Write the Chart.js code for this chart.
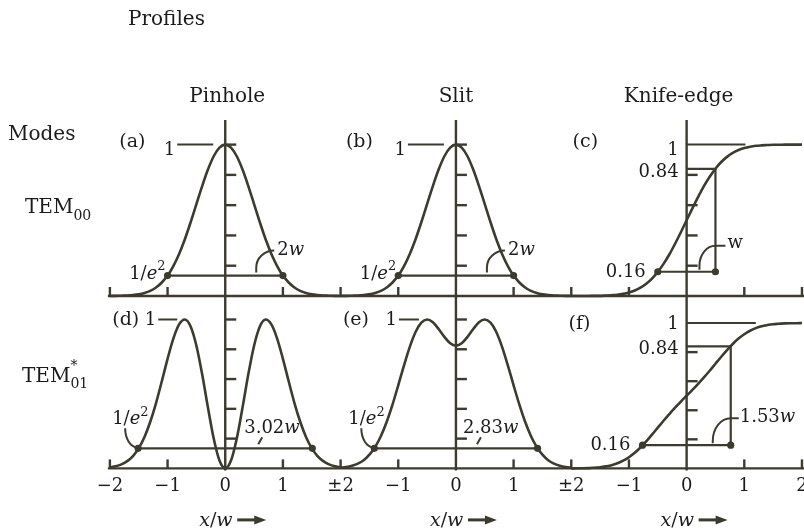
<!DOCTYPE html>
<html>
<head>
<meta charset="utf-8">
<title>Beam profiles</title>
<script src="https://cdn.jsdelivr.net/npm/chart.js@4.4.1/dist/chart.umd.min.js"></script>
<style>
  html, body { margin: 0; padding: 0; background: #ffffff; }
  canvas { display: block; }
</style>
</head>
<body>
<canvas id="profiles" width="804" height="531"></canvas>
<script>
// Sample positions across one panel, in units of x/w
const U = [-2, -1.9, -1.8, -1.7, -1.6, -1.5, -1.4, -1.3, -1.2, -1.1, -1, -0.9, -0.8, -0.7, -0.6, -0.5, -0.4, -0.3, -0.2, -0.1,
           0, 0.1, 0.2, 0.3, 0.4, 0.5, 0.6, 0.7, 0.8, 0.9, 1, 1.1, 1.2, 1.3, 1.4, 1.5, 1.6, 1.7, 1.8, 1.9, 2];

// Normalised transmitted signal for each mode / aperture
const pinhole00 = [0, 0.001, 0.002, 0.003, 0.006, 0.011, 0.02, 0.034, 0.056, 0.089, 0.135, 0.198, 0.278, 0.375, 0.487, 0.607, 0.726, 0.835, 0.923, 0.98,
                   1, 0.98, 0.923, 0.835, 0.726, 0.607, 0.487, 0.375, 0.278, 0.198, 0.135, 0.089, 0.056, 0.034, 0.02, 0.011, 0.006, 0.003, 0.002, 0.001, 0];
const slit00 = [0, 0.001, 0.002, 0.003, 0.006, 0.011, 0.02, 0.034, 0.056, 0.089, 0.135, 0.198, 0.278, 0.375, 0.487, 0.607, 0.726, 0.835, 0.923, 0.98,
                1, 0.98, 0.923, 0.835, 0.726, 0.607, 0.487, 0.375, 0.278, 0.198, 0.135, 0.089, 0.056, 0.034, 0.02, 0.011, 0.006, 0.003, 0.002, 0.001, 0];
const knife00 = [0, 0, 0, 0, 0.001, 0.001, 0.003, 0.005, 0.008, 0.014, 0.023, 0.036, 0.055, 0.081, 0.115, 0.159, 0.212, 0.274, 0.345, 0.421,
                 0.5, 0.579, 0.655, 0.726, 0.788, 0.841, 0.885, 0.919, 0.945, 0.964, 0.977, 0.986, 0.992, 0.995, 0.997, 0.999, 0.999, 1, 1, 1, 1];
const pinhole01 = [0.007, 0.014, 0.027, 0.049, 0.083, 0.136, 0.211, 0.313, 0.439, 0.585, 0.736, 0.872, 0.967, 1, 0.953, 0.824, 0.632, 0.409, 0.201, 0.053,
                   0, 0.053, 0.201, 0.409, 0.632, 0.824, 0.953, 1, 0.967, 0.872, 0.736, 0.585, 0.439, 0.313, 0.211, 0.136, 0.083, 0.049, 0.027, 0.014, 0.007];
const slit01 = [0.005, 0.009, 0.018, 0.032, 0.055, 0.092, 0.145, 0.218, 0.313, 0.428, 0.558, 0.692, 0.816, 0.916, 0.979, 1, 0.982, 0.936, 0.883, 0.84,
                0.824, 0.84, 0.883, 0.936, 0.982, 1, 0.979, 0.916, 0.816, 0.692, 0.558, 0.428, 0.313, 0.218, 0.145, 0.092, 0.055, 0.032, 0.018, 0.009, 0.005];
const knife01 = [0, 0.001, 0.001, 0.002, 0.005, 0.008, 0.014, 0.022, 0.035, 0.053, 0.077, 0.107, 0.144, 0.186, 0.232, 0.28, 0.328, 0.374, 0.418, 0.46,
                 0.5, 0.54, 0.582, 0.626, 0.672, 0.72, 0.768, 0.814, 0.856, 0.893, 0.923, 0.947, 0.965, 0.978, 0.986, 0.992, 0.995, 0.998, 0.999, 0.999, 1];

// Panel centres on the shared x axis (pinhole, slit, knife-edge)
const PANEL_X = [0, 4, 8];

// Shared x axis ticks and the labels printed under them
const X_TICKS = [-2, -1, 0, 1, 2, 3, 4, 5, 6, 7, 8, 9, 10];
const X_LABELS = ['\u22122', '\u22121', '0', '1', '\u00b12', '\u22121', '0', '1', '\u00b12', '\u22121', '0', '1', '2'];

// Marker levels and the stated widths (in units of w)
const LEVEL_E2 = 0.135;
const LEVEL_LO = 0.16;
const LEVEL_HI = 0.84;
const WIDTHS = [2, 2, 1, 3.02, 2.83, 1.53];
const WIDTH_TEXT = ['2', '2', '', '3.02', '2.83', '1.53'];

const INK = '#3d3a2e';
const TXT = '#1b1b1b';
const SERIF = '"DejaVu Serif", "Liberation Serif", serif';

const PANELS = [
  { tag: '(a)', prof: pinhole00, x0: PANEL_X[0], axis: 'yTop', kind: 'peak', row: 0 },
  { tag: '(b)', prof: slit00,    x0: PANEL_X[1], axis: 'yTop', kind: 'peak', row: 0 },
  { tag: '(c)', prof: knife00,   x0: PANEL_X[2], axis: 'yTop', kind: 'edge', row: 0 },
  { tag: '(d)', prof: pinhole01, x0: PANEL_X[0], axis: 'yBot', kind: 'peak', row: 1 },
  { tag: '(e)', prof: slit01,    x0: PANEL_X[1], axis: 'yBot', kind: 'peak', row: 1 },
  { tag: '(f)', prof: knife01,   x0: PANEL_X[2], axis: 'yKB',  kind: 'edge', row: 1 }
];
PANELS.forEach((p, i) => { p.width = WIDTHS[i]; p.wtext = WIDTH_TEXT[i]; });

function font(size, italic) { return (italic ? 'italic ' : '') + size + 'px ' + SERIF; }

// Draws a run of text pieces: style 'n' normal, 'i' italic, 'sup' / 'sub' small raised / lowered
function rich(ctx, parts, x, y, size, align) {
  const small = Math.round(size * 0.7);
  const segs = parts.map(([t, s]) => {
    const f = (s === 'sup' || s === 'sub') ? font(small, false) : font(size, s === 'i');
    ctx.font = f;
    return { t, f, w: ctx.measureText(t).width, dy: s === 'sup' ? -size * 0.45 : (s === 'sub' ? size * 0.35 : 0) };
  });
  const total = segs.reduce((a, s) => a + s.w, 0);
  let cx = align === 'right' ? x - total : (align === 'center' ? x - total / 2 : x);
  ctx.textAlign = 'left';
  ctx.textBaseline = 'alphabetic';
  for (const s of segs) { ctx.font = s.f; ctx.fillText(s.t, cx, y + s.dy); cx += s.w; }
  return total;
}

function seg(ctx, x1, y1, x2, y2) { ctx.beginPath(); ctx.moveTo(x1, y1); ctx.lineTo(x2, y2); ctx.stroke(); }

// Axes, baselines and tick marks of the six panels
const framePlugin = {
  id: 'frame',
  beforeDatasetsDraw(chart) {
    const { ctx, chartArea, scales } = chart;
    const x = scales.x;
    const yTop = scales.yTop, yBot = scales.yBot;
    ctx.save();
    ctx.strokeStyle = INK;
    ctx.lineWidth = 2.4;
    ctx.lineCap = 'butt';
    const left = x.getPixelForValue(-2.035);
    const baseTop = yTop.getPixelForValue(0);
    const baseBot = yBot.getPixelForValue(0);
    seg(ctx, left, baseTop, chart.width, baseTop);
    seg(ctx, left, baseBot, chart.width, baseBot);
    for (const px0 of PANEL_X) {
      const ax = x.getPixelForValue(px0);
      seg(ctx, ax, chartArea.top - 1, ax, baseBot + 2);
    }
    for (const t of [-2, -1, 1, 2, 3, 5, 6, 7, 9, 10]) {
      const px = x.getPixelForValue(t);
      seg(ctx, px, baseTop, px, baseTop - 9);
      seg(ctx, px, baseBot, px, baseBot - 9);
    }
    for (const p of PANELS) {
      const ys = scales[p.axis];
      const ax = x.getPixelForValue(p.x0);
      const levels = p.kind === 'peak' ? [0.2, 0.4, 0.6, 0.8, 1] : [0.2, 0.4, 0.6, 0.8];
      for (const v of levels) {
        const py = ys.getPixelForValue(v);
        seg(ctx, ax, py, ax + 11, py);
      }
    }
    ctx.restore();
  }
};

// Titles, panel tags and the width annotations
const notesPlugin = {
  id: 'notes',
  afterDatasetsDraw(chart) {
    const { ctx, chartArea, scales } = chart;
    const x = scales.x;
    ctx.save();
    ctx.fillStyle = TXT;
    ctx.strokeStyle = INK;
    ctx.lineWidth = 2;

    rich(ctx, [['Profiles', 'n']], 128, 25, 20, 'left');
    const titles = ['Pinhole', 'Slit', 'Knife-edge'];
    const tShift = [2, 0, -8];
    PANEL_X.forEach((v, i) => rich(ctx, [[titles[i], 'n']], x.getPixelForValue(v) + tShift[i], chartArea.top - 19, 20, 'center'));

    rich(ctx, [['Modes', 'n']], 8, 140, 20, 'left');
    rich(ctx, [['TEM', 'n'], ['00', 'sub']], 25, 213, 20, 'left');
    ctx.font = font(20, false);
    const temW = ctx.measureText('TEM').width;
    ctx.font = font(14, false);
    ctx.fillText('*', 22 + temW, 370);
    ctx.fillText('01', 22 + temW, 388);
    ctx.font = font(20, false);
    ctx.fillText('TEM', 22, 382);

    const tagDx = [-106, -110, -114, -113, -113, -118];
    PANELS.forEach((p, i) => {
      const ys = scales[p.axis];
      const ax = x.getPixelForValue(p.x0);
      const y1 = ys.getPixelForValue(1);
      const h = p.width / 2;
      rich(ctx, [[p.tag, 'n']], ax + tagDx[i], p.row === 0 ? y1 + 2 : y1 + 6, 19, 'left');

      if (p.kind === 'peak') {
        // "1" leader at the peak level
        const lead = [[-48, -12], [-48, -12], null, [-67, -48], [-57, -37]][i];
        seg(ctx, ax + lead[0], y1, ax + lead[1], y1);
        rich(ctx, [['1', 'n']], ax + lead[0] - 2, p.row === 0 ? y1 + 10 : y1 + 6, 18, 'right');

        const ly = ys.getPixelForValue(LEVEL_E2);
        const dl = x.getPixelForValue(p.x0 - h);
        if (p.row === 0) {
          rich(ctx, [['1/', 'n'], ['e', 'i'], ['2', 'sup']], dl - 2, ly + 3, 18, 'right');
          // hook pointing at the curve, with the full width label
          const hx = ax + 31;
          ctx.beginPath();
          ctx.moveTo(hx, ly - 3);
          ctx.lineTo(hx, ly - 8);
          ctx.ellipse(hx + 18, ly - 8, 18, 17, 0, Math.PI, 1.5 * Math.PI);
          ctx.stroke();
          rich(ctx, [[p.wtext, 'n'], ['w', 'i']], hx + 21, ly - 21, 18, 'left');
        } else {
          rich(ctx, [['1/', 'n'], ['e', 'i'], ['2', 'sup']], dl - 26, ly - 24, 18, 'left');
          ctx.beginPath();
          ctx.ellipse(dl - 1, ly - 20, 12, 19, 0, Math.PI, 0.5 * Math.PI, true);
          ctx.stroke();
          const tx = i === 3 ? ax + 19 : ax + 7;
          const kx = i === 3 ? ax + 37 : ax + 25;
          rich(ctx, [[p.wtext, 'n'], ['w', 'i']], tx, ly - 15, 18, 'left');
          seg(ctx, kx, ly - 11, kx - 4, ly - 4);
        }
      } else {
        const yHi = ys.getPixelForValue(LEVEL_HI);
        const yLo = ys.getPixelForValue(LEVEL_LO);
        const oneEnd = x.getPixelForValue(p.x0 + (p.row === 0 ? 1.02 : 1.2));
        seg(ctx, ax, y1, oneEnd, y1);
        rich(ctx, [['1', 'n']], ax - 8, p.row === 0 ? y1 + 10 : y1 + 6, 18, 'right');
        rich(ctx, [['0.84', 'n']], ax - 8, yHi + 8, 18, 'right');
        rich(ctx, [['0.16', 'n']], x.getPixelForValue(p.x0 - h) - 12, yLo + 5, 18, 'right');
        const vx = x.getPixelForValue(p.x0 + h);
        const rx = p.row === 0 ? 16 : 18;
        const ry = p.row === 0 ? 20 : 23;
        const oy = p.row === 0 ? 6 : 4;
        ctx.beginPath();
        ctx.moveTo(vx - rx, yLo - 2);
        ctx.lineTo(vx - rx, yLo - oy);
        ctx.ellipse(vx, yLo - oy, rx, ry, 0, Math.PI, 1.5 * Math.PI);
        ctx.lineTo(vx + (p.row === 0 ? 10 : 8), yLo - oy - ry);
        ctx.stroke();
        if (p.row === 0) {
          rich(ctx, [['w', 'n']], vx + 12, yLo - 24, 18, 'left');
        } else {
          rich(ctx, [[p.wtext, 'n'], ['w', 'i']], vx + 9, yLo - 23, 18, 'left');
        }
      }
    });

    // x/w axis captions with arrows
    const capY = scales.yBot.getPixelForValue(0) + 57.5;
    for (const v of PANEL_X) {
      const ax = x.getPixelForValue(v);
      rich(ctx, [['x', 'i'], ['/', 'n'], ['w', 'i']], ax - 26, capY, 19, 'left');
      ctx.lineWidth = 3;
      seg(ctx, ax + 12, capY - 6, ax + 32, capY - 6);
      ctx.fillStyle = INK;
      ctx.beginPath();
      ctx.moveTo(ax + 29, capY - 10.5);
      ctx.lineTo(ax + 41, capY - 6);
      ctx.lineTo(ax + 29, capY - 1.5);
      ctx.closePath();
      ctx.fill();
      ctx.fillStyle = TXT;
      ctx.lineWidth = 2;
    }
    ctx.restore();
  }
};

const datasets = [];
PANELS.forEach(p => {
  datasets.push({
    data: U.map((u, k) => ({ x: p.x0 + u, y: p.prof[k] })),
    yAxisID: p.axis,
    borderColor: INK,
    borderWidth: 2.6,
    pointRadius: 0,
    cubicInterpolationMode: 'monotone',
    fill: false,
    clip: false
  });
});
PANELS.forEach(p => {
  const h = p.width / 2;
  const pts = p.kind === 'peak'
    ? [{ x: p.x0 - h, y: LEVEL_E2 }, { x: p.x0 + h, y: LEVEL_E2 }]
    : [{ x: p.x0 - h, y: LEVEL_LO }, { x: p.x0 + h, y: LEVEL_LO }, { x: p.x0 + h, y: LEVEL_HI }, { x: p.x0, y: LEVEL_HI }];
  datasets.push({
    data: pts,
    yAxisID: p.axis,
    borderColor: INK,
    borderWidth: 2.2,
    pointRadius: pts.map((_, k) => (k < 2 ? 3.6 : 0)),
    pointBackgroundColor: INK,
    pointBorderWidth: 0,
    tension: 0,
    fill: false,
    clip: false
  });
});

new Chart(document.getElementById('profiles'), {
  type: 'line',
  data: { datasets },
  options: {
    responsive: false,
    animation: false,
    events: [],
    layout: { padding: { left: 93, right: 0, top: 121, bottom: 27 } },
    plugins: { legend: { display: false }, tooltip: { enabled: false } },
    scales: {
      x: {
        type: 'linear',
        bounds: 'data',
        min: -2.293,
        max: 9.966,
        grid: { display: false, drawTicks: false },
        border: { display: false },
        ticks: {
          color: TXT,
          font: { family: SERIF, size: 18 },
          padding: 7,
          autoSkip: false,
          maxRotation: 0,
          callback: (v) => X_LABELS[X_TICKS.indexOf(v)]
        },
        afterBuildTicks: (s) => { s.ticks = X_TICKS.map(v => ({ value: v })); },
        afterFit: (s) => { s.paddingLeft = 0; s.paddingRight = 0; }
      },
      yTop: { type: 'linear', display: false, min: -1.139, max: 1.156 },
      yBot: { type: 'linear', display: false, min: 0, max: 2.333 },
      yKB:  { type: 'linear', display: false, min: 0, max: 2.39 }
    }
  },
  plugins: [framePlugin, notesPlugin]
});
</script>
</body>
</html>
